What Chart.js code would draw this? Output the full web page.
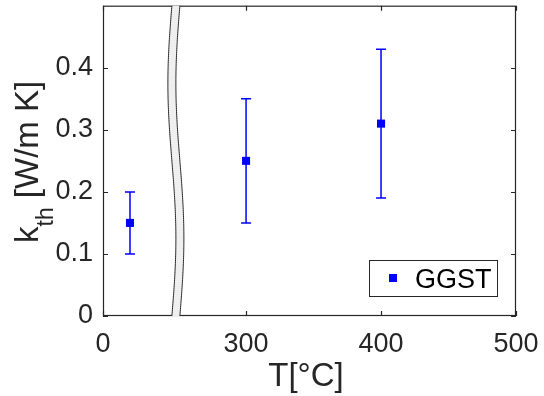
<!DOCTYPE html>
<html>
<head>
<meta charset="utf-8">
<script src="https://cdn.jsdelivr.net/npm/chart.js@4/dist/chart.umd.min.js"></script>
<style>
  html, body { margin: 0; padding: 0; background: #fff; }
  #wrap { width: 544px; height: 396px; }
</style>
</head>
<body>
<div id="wrap"><canvas id="c" width="544" height="396"></canvas></div>
<script>
// ---- data ----
const temperatures = [20, 300, 400];          // T [°C]
const kValues      = [0.15, 0.25, 0.31];      // k_th [W/m K]
const kLow         = [0.10, 0.15, 0.19];      // lower error bound
const kHigh        = [0.20, 0.35, 0.43];      // upper error bound
const xTickLabels  = [0, 300, 400, 500];
const yTickValues  = [0, 0.1, 0.2, 0.3, 0.4];
const seriesName   = 'GGST';
// broken temperature axis: the range BREAK_FROM..BREAK_TO is cut out
const BREAK_FROM = 54;
const BREAK_TO   = 248;

const GAP = BREAK_TO - BREAK_FROM;
function toAxis(t) { return t <= BREAK_FROM ? t + GAP : t; }

const AXIS_COLOR = '#262626';
const SERIES_COLOR = '#0000ff';
const FONT = '"Liberation Sans", Arial, Helvetica, sans-serif';

const deco = {
  id: 'deco',
  beforeDatasetsDraw(chart) {
    const { ctx, scales: { x, y } } = chart;
    ctx.save();
    ctx.strokeStyle = SERIES_COLOR;
    ctx.lineWidth = 1.5;
    temperatures.forEach((t, i) => {
      const px = x.getPixelForValue(toAxis(t));
      const yl = y.getPixelForValue(kLow[i]);
      const yh = y.getPixelForValue(kHigh[i]);
      ctx.beginPath();
      ctx.moveTo(px, yl); ctx.lineTo(px, yh);
      ctx.moveTo(px - 5, yl); ctx.lineTo(px + 5, yl);
      ctx.moveTo(px - 5, yh); ctx.lineTo(px + 5, yh);
      ctx.stroke();
    });
    ctx.restore();
  },
  afterDatasetsDraw(chart) {
    const { ctx, chartArea: a, scales: { x, y } } = chart;
    ctx.save();
    // frame
    ctx.strokeStyle = AXIS_COLOR;
    ctx.lineWidth = 1.2;
    ctx.strokeRect(a.left + 0.5, a.top + 0.5, a.right - a.left - 1, a.bottom - a.top - 1);
    // ticks (inside, mirrored)
    const TL = 5;
    ctx.beginPath();
    yTickValues.forEach(v => {
      const py = Math.round(y.getPixelForValue(v)) + 0.5;
      ctx.moveTo(a.left, py); ctx.lineTo(a.left + TL, py);
      ctx.moveTo(a.right, py); ctx.lineTo(a.right - TL, py);
    });
    xTickLabels.forEach(v => {
      const px = Math.round(x.getPixelForValue(toAxis(v))) + 0.5;
      ctx.moveTo(px, a.bottom); ctx.lineTo(px, a.bottom - TL);
      ctx.moveTo(px, a.top); ctx.lineTo(px, a.top + TL);
    });
    ctx.stroke();
    // axis break
    const cx0 = x.getPixelForValue(BREAK_TO);
    const H = a.bottom - a.top;
    const half = 4;
    const cxAt = yy => cx0 - 4 * Math.sin(2 * Math.PI * (yy - a.top) / H);
    ctx.beginPath();
    for (let yy = a.top; yy <= a.bottom; yy += 2) ctx.lineTo(cxAt(yy) - half, yy);
    ctx.lineTo(cxAt(a.bottom) - half, a.bottom);
    for (let yy = a.bottom; yy >= a.top; yy -= 2) ctx.lineTo(cxAt(yy) + half, yy);
    ctx.lineTo(cxAt(a.top) + half, a.top);
    ctx.closePath();
    ctx.fillStyle = '#efefef';
    ctx.fill();
    ctx.strokeStyle = AXIS_COLOR;
    ctx.lineWidth = 1;
    [-half, half].forEach(off => {
      ctx.beginPath();
      for (let yy = a.top; yy <= a.bottom; yy += 2) ctx.lineTo(cxAt(yy) + off, yy);
      ctx.lineTo(cxAt(a.bottom) + off, a.bottom);
      ctx.stroke();
    });
    // legend (inside, bottom right)
    const lx = 369.5, ly = 260.5, lw = 128, lh = 36;
    ctx.fillStyle = '#fff';
    ctx.fillRect(lx, ly, lw, lh);
    ctx.strokeStyle = AXIS_COLOR;
    ctx.lineWidth = 1;
    ctx.strokeRect(lx, ly, lw, lh);
    ctx.fillStyle = SERIES_COLOR;
    ctx.fillRect(389, 274, 8, 8);
    ctx.fillStyle = '#000';
    ctx.font = '27px ' + FONT;
    ctx.textAlign = 'left';
    ctx.textBaseline = 'alphabetic';
    ctx.fillText(seriesName, 415, 288);
    ctx.restore();
  },
  afterDraw(chart) {
    const { ctx } = chart;
    ctx.save();
    ctx.fillStyle = AXIS_COLOR;
    ctx.textBaseline = 'alphabetic';
    // x title
    ctx.font = '33px ' + FONT;
    ctx.textAlign = 'center';
    ctx.fillText('T[°C]', 306, 386);
    // y title with subscript
    ctx.translate(38, 243);
    ctx.rotate(-Math.PI / 2);
    ctx.textAlign = 'left';
    ctx.font = '33px ' + FONT;
    ctx.fillText('k', 0, 0);
    let xx = ctx.measureText('k').width;
    ctx.font = '23px ' + FONT;
    ctx.fillText('th', xx, 15);
    xx += ctx.measureText('th').width;
    ctx.font = '33px ' + FONT;
    ctx.fillText(' [W/m K]', xx, 0);
    ctx.restore();
  }
};

new Chart(document.getElementById('c'), {
  type: 'scatter',
  data: {
    datasets: [{
      label: seriesName,
      data: temperatures.map((t, i) => ({ x: toAxis(t), y: kValues[i] })),
      pointStyle: 'rect',
      pointRadius: 5.7,
      pointHoverRadius: 5.7,
      backgroundColor: SERIES_COLOR,
      borderWidth: 0,
      clip: false
    }]
  },
  options: {
    responsive: false,
    animation: false,
    devicePixelRatio: 1,
    layout: { padding: { left: 0, right: 28, top: 4, bottom: 0 } },
    plugins: { legend: { display: false }, tooltip: { enabled: false } },
    scales: {
      x: {
        type: 'linear',
        min: toAxis(0),
        max: 500,
        grid: { display: false, drawTicks: false },
        border: { display: false },
        afterBuildTicks: s => { s.ticks = xTickLabels.map(v => ({ value: toAxis(v) })); },
        afterFit: s => { s.height = 80; s.paddingLeft = 0; s.paddingRight = 0; },
        ticks: {
          autoSkip: false,
          maxRotation: 0,
          padding: 12,
          color: AXIS_COLOR,
          font: { family: FONT, size: 27 },
          callback: (v, i) => String(xTickLabels[i])
        }
      },
      y: {
        type: 'linear',
        min: 0,
        max: 0.5,
        grid: { display: false, drawTicks: false },
        border: { display: false },
        afterBuildTicks: s => { s.ticks = yTickValues.map(v => ({ value: v })); },
        afterFit: s => { s.width = 103; s.paddingTop = 0; s.paddingBottom = 0; },
        ticks: {
          autoSkip: false,
          padding: 10,
          color: AXIS_COLOR,
          font: { family: FONT, size: 27 },
          callback: v => String(v)
        }
      }
    }
  },
  plugins: [deco]
});
</script>
</body>
</html>
